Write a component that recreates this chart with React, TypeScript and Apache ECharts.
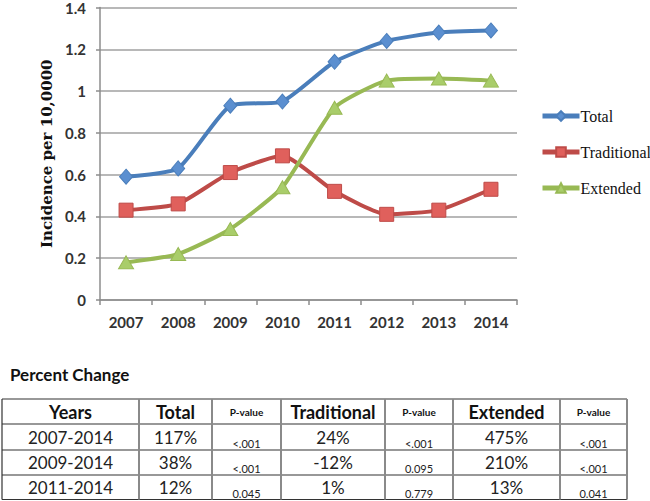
import React, { useEffect, useRef } from "react";
import * as echarts from "echarts";

const years = ["2007", "2008", "2009", "2010", "2011", "2012", "2013", "2014"];
const total = [0.59, 0.63, 0.93, 0.95, 1.14, 1.24, 1.28, 1.29];
const traditional = [0.43, 0.46, 0.61, 0.69, 0.52, 0.41, 0.43, 0.53];
const extended = [0.18, 0.22, 0.34, 0.54, 0.92, 1.05, 1.06, 1.05];

const tableTitle = "Percent Change";
const tableHeaders = ["Years", "Total", "P-value", "Traditional", "P-value", "Extended", "P-value"];
const periods = ["2007-2014", "2009-2014", "2011-2014"];
const totalChange = ["117%", "38%", "12%"];
const totalP = ["<.001", "<.001", "0.045"];
const tradChange = ["24%", "-12%", "1%"];
const tradP = ["<.001", "0.095", "0.779"];
const extChange = ["475%", "210%", "13%"];
const extP = ["<.001", "<.001", "0.041"];

const SANS = "Lato, 'Open Sans', sans-serif";
const SERIF = "'Liberation Serif', 'DejaVu Serif', serif";
const SERIF2 = "'DejaVu Serif', 'Liberation Serif', serif";

function buildTable(): any[] {
  const colX = [2, 139, 212, 281, 385, 453, 560, 627];
  const rowY = [399, 424, 450, 475, 499.5];
  const els: any[] = [];
  els.push({
    type: "text",
    x: 10,
    y: 374,
    style: { text: tableTitle, font: `bold 17px ${SANS}`, fill: "#111", textVerticalAlign: "middle" },
  });
  rowY.forEach((y) => {
    els.push({
      type: "line",
      shape: { x1: colX[0], y1: y, x2: colX[colX.length - 1], y2: y },
      style: { stroke: "#333", lineWidth: 1.2 },
    });
  });
  colX.forEach((x, i) => {
    els.push({
      type: "line",
      shape: { x1: x, y1: rowY[0], x2: x, y2: rowY[rowY.length - 1] },
      style: { stroke: i === 0 ? "#333" : "#8a8a8a", lineWidth: i === 0 ? 1.2 : 2 },
    });
  });
  const cx = (i: number) => (colX[i] + colX[i + 1]) / 2;
  const cy = (r: number) => (rowY[r] + rowY[r + 1]) / 2;
  tableHeaders.forEach((h, i) => {
    const small = h === "P-value";
    els.push({
      type: "text",
      x: cx(i),
      y: cy(0),
      style: {
        text: h,
        font: small ? `bold 10px ${SANS}` : `bold 18px ${SANS}`,
        fill: "#111",
        textAlign: "center",
        textVerticalAlign: "middle",
      },
    });
  });
  const rows = periods.map((p, r) => [p, totalChange[r], totalP[r], tradChange[r], tradP[r], extChange[r], extP[r]]);
  rows.forEach((row, r) => {
    row.forEach((v, i) => {
      const small = i === 2 || i === 4 || i === 6;
      els.push({
        type: "text",
        x: cx(i),
        y: cy(r + 1) + (small ? 6 : 0),
        style: {
          text: v,
          font: small ? `11px ${SANS}` : `17px ${SANS}`,
          fill: "#222",
          textAlign: "center",
          textVerticalAlign: "middle",
        },
      });
    });
  });
  return els;
}

export default function App() {
  const ref = useRef<HTMLDivElement>(null);
  useEffect(() => {
    if (!ref.current) return;
    const chart = echarts.init(ref.current, null, { renderer: "svg" });
    const mkSeries = (name: string, data: number[], color: string, fill: string, symbol: string, size: any) => ({
      name,
      type: "line",
      data,
      smooth: 0.18,
      symbol,
      symbolSize: size,
      lineStyle: { color, width: 4 },
      itemStyle: { color: fill, borderColor: color, borderWidth: 1 },
      emphasis: { disabled: true },
    });
    chart.setOption({
      animation: false,
      grid: { left: 100, right: 133, top: 4, bottom: 201 },
      legend: {
        orient: "vertical",
        left: 535,
        top: 103,
        itemWidth: 37,
        itemHeight: 12,
        itemGap: 20,
        lineStyle: { width: 5 },
        textStyle: { fontFamily: SERIF, fontSize: 16, color: "#111", padding: [0, 0, 0, -4] },
        data: ["Total", "Traditional", "Extended"],
      },
      xAxis: {
        type: "category",
        data: years,
        boundaryGap: true,
        axisLine: { lineStyle: { color: "#8c8c8c", width: 1.5 } },
        axisTick: { show: true, length: 5, lineStyle: { color: "#8c8c8c", width: 1.5 } },
        axisLabel: { margin: 14, fontFamily: SANS, fontSize: 15, fontWeight: "bold", color: "#333" },
      },
      yAxis: {
        type: "value",
        min: 0,
        max: 1.4,
        interval: 0.2,
        name: "Incidence per 10,0000",
        nameLocation: "middle",
        nameGap: 46,
        nameRotate: 90,
        nameTextStyle: { fontFamily: SERIF2, fontSize: 15, fontWeight: "bold", color: "#111" },
        axisLine: { show: true, lineStyle: { color: "#8c8c8c", width: 1.5 } },
        axisTick: { show: true, length: 4, lineStyle: { color: "#8c8c8c", width: 1.5 } },
        axisLabel: { margin: 14, fontFamily: SANS, fontSize: 15, fontWeight: "bold", color: "#333" },
        splitLine: { lineStyle: { color: "#a0a0a0", width: 1.5 } },
      },
      series: [
        mkSeries("Total", total, "#4a7ebb", "#5b8fd0", "diamond", [13, 15]),
        mkSeries("Traditional", traditional, "#be4b48", "#e0605c", "rect", 14),
        mkSeries("Extended", extended, "#98b954", "#a9cd6a", "triangle", [15, 13]),
      ],
      graphic: buildTable(),
    });
    return () => chart.dispose();
  }, []);
  return <div ref={ref} style={{ position: "absolute", left: 0, top: 0, width: 650, height: 501, background: "#fff" }} />;
}
